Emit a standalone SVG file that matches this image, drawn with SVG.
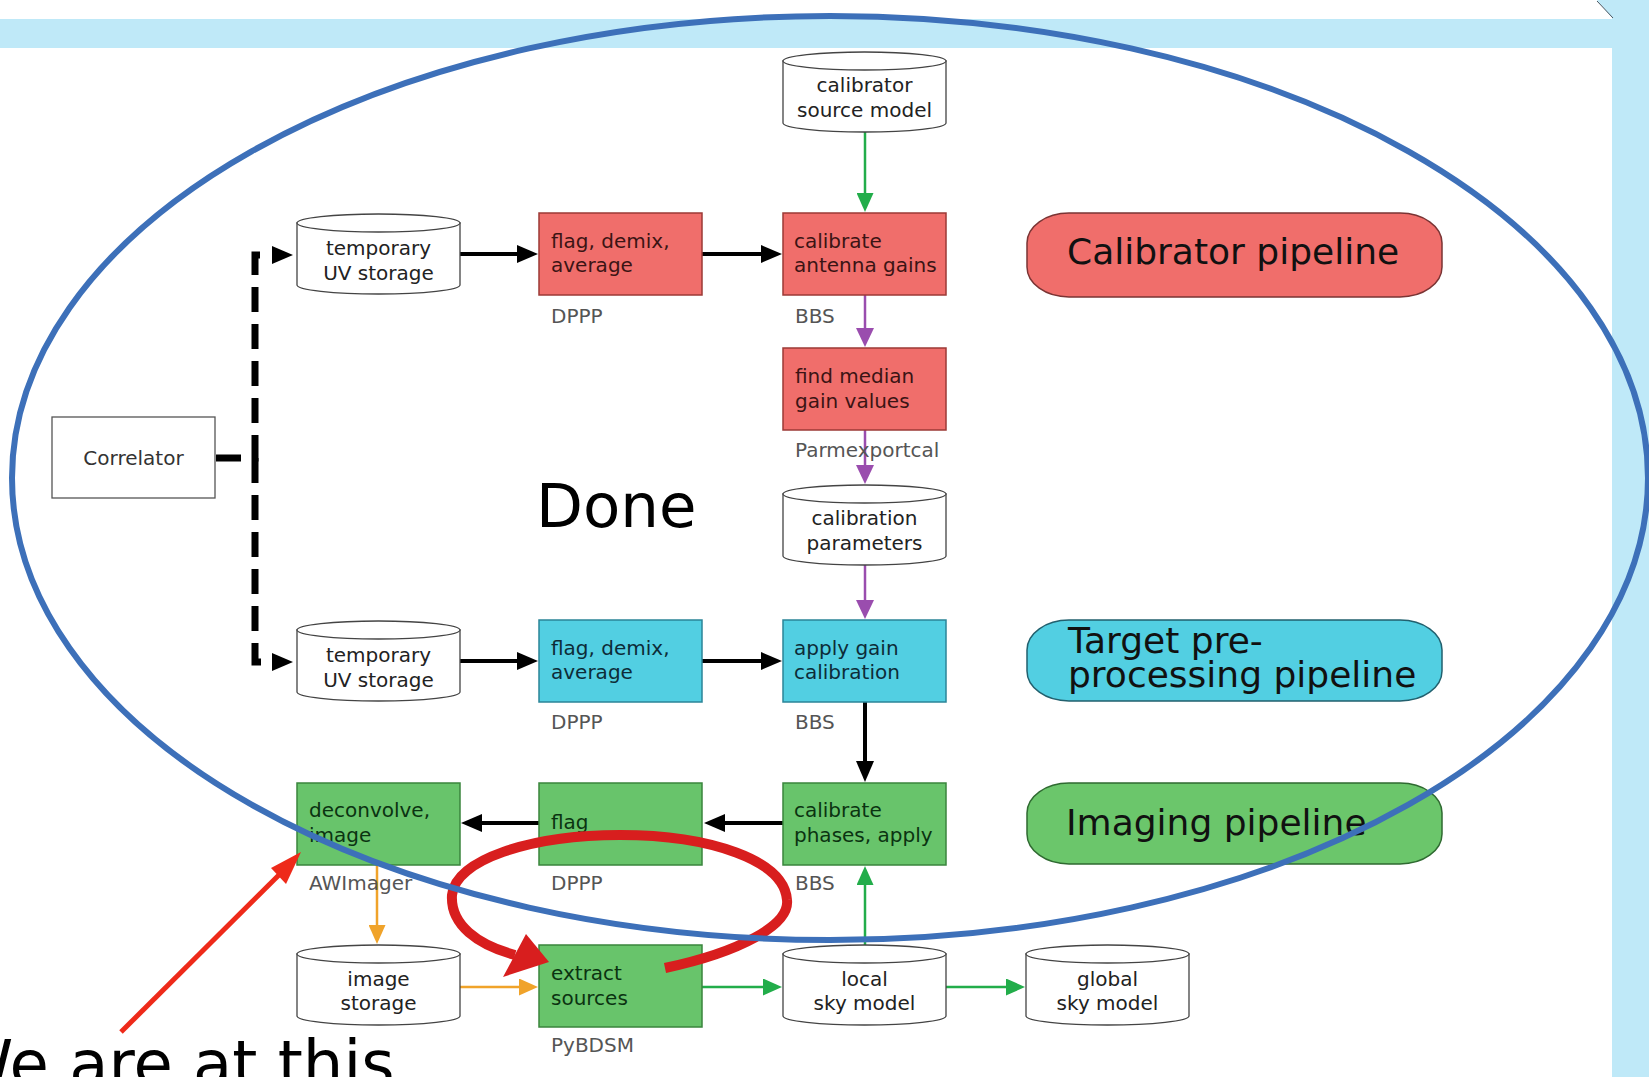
<svg xmlns="http://www.w3.org/2000/svg" width="1649" height="1077" viewBox="0 0 1649 1077">
  <style>
    text { font-family: "DejaVu Sans", "Liberation Sans", sans-serif; }
    .box-red { fill: #f06e6b; stroke: #9c3a36; stroke-width: 1.5; }
    .box-cyan { fill: #52cfe2; stroke: #2b8598; stroke-width: 1.5; }
    .box-green { fill: #68c46b; stroke: #3a853d; stroke-width: 1.5; }
    .cyl { fill: #ffffff; stroke: #444444; stroke-width: 1.3; }
    .t { font-size: 20px; }
    .t-red { fill: #3b1414; }
    .t-cyan { fill: #0d2c38; }
    .t-green { fill: #0b3311; }
    .t-cyl { fill: #222222; text-anchor: middle; }
    .tool { font-size: 20px; fill: #555555; }
    .pill-text { font-size: 36px; fill: #111111; }
    .big { font-size: 61px; fill: #000000; }
    .c-black { stroke: #000000; stroke-width: 4; fill: none; }
    .c-dash { stroke: #000000; stroke-width: 7; fill: none; stroke-dasharray: 25 12; }
    .c-green { stroke: #22ad4a; stroke-width: 2.5; fill: none; }
    .c-purple { stroke: #9a4dae; stroke-width: 2.5; fill: none; }
    .c-orange { stroke: #f0a32a; stroke-width: 2.5; fill: none; }
  </style>
  <defs>
    <marker id="ah-black" markerUnits="userSpaceOnUse" viewBox="0 0 21 18" markerWidth="21" markerHeight="18" refX="1" refY="9" orient="auto">
      <path d="M0,0 L21,9 L0,18 z" fill="#000000"/>
    </marker>
    <marker id="ah-green" markerUnits="userSpaceOnUse" viewBox="0 0 19 17" markerWidth="19" markerHeight="17" refX="1" refY="8.5" orient="auto">
      <path d="M0,0 L19,8.5 L0,17 z" fill="#22ad4a"/>
    </marker>
    <marker id="ah-purple" markerUnits="userSpaceOnUse" viewBox="0 0 19 18" markerWidth="19" markerHeight="18" refX="1" refY="9" orient="auto">
      <path d="M0,0 L19,9 L0,18 z" fill="#9a4dae"/>
    </marker>
    <marker id="ah-orange" markerUnits="userSpaceOnUse" viewBox="0 0 19 17" markerWidth="19" markerHeight="17" refX="1" refY="8.5" orient="auto">
      <path d="M0,0 L19,8.5 L0,17 z" fill="#f0a32a"/>
    </marker>
    <!-- storage cylinder, 163 x 80 -->
    <g id="cyl-shape">
      <path class="cyl" d="M0,9 V71 A81.5,9 0 0 0 163,71 V9 Z"/>
      <ellipse class="cyl" cx="81.5" cy="9" rx="81.5" ry="9"/>
    </g>
  </defs>

  <!-- page background -->
  <rect x="0" y="0" width="1649" height="1077" fill="#ffffff"/>
  <rect x="0" y="19" width="1612" height="29" fill="#bfe9f8"/>
  <polygon points="1597,0 1649,0 1649,1077 1612,1077 1612,18" fill="#bfe9f8"/>
  <line x1="1597" y1="1" x2="1613" y2="18" stroke="#4a5560" stroke-width="1"/>

  <!-- connectors -->
  <g id="connectors">
    <path class="c-dash" d="M216,458 H255 V255 H273" marker-end="url(#ah-black)"/>
    <path class="c-dash" d="M255,458 V662 H273" marker-end="url(#ah-black)"/>
    <path class="c-black" d="M460,254 H518" marker-end="url(#ah-black)"/>
    <path class="c-black" d="M702,254 H762" marker-end="url(#ah-black)"/>
    <path class="c-black" d="M460,661 H518" marker-end="url(#ah-black)"/>
    <path class="c-black" d="M702,661 H762" marker-end="url(#ah-black)"/>
    <path class="c-black" d="M865,702 V762" marker-end="url(#ah-black)"/>
    <path class="c-black" d="M783,823 H724" marker-end="url(#ah-black)"/>
    <path class="c-black" d="M539,823 H481" marker-end="url(#ah-black)"/>
    <path class="c-green" d="M865,132 V194" marker-end="url(#ah-green)"/>
    <path class="c-green" d="M865,945 V884" marker-end="url(#ah-green)"/>
    <path class="c-green" d="M702,987 H764" marker-end="url(#ah-green)"/>
    <path class="c-green" d="M946,987 H1007" marker-end="url(#ah-green)"/>
    <path class="c-purple" d="M865,295 V329" marker-end="url(#ah-purple)"/>
    <path class="c-purple" d="M865,430 V466" marker-end="url(#ah-purple)"/>
    <path class="c-purple" d="M865,565 V601" marker-end="url(#ah-purple)"/>
    <path class="c-orange" d="M377,865 V926" marker-end="url(#ah-orange)"/>
    <path class="c-orange" d="M460,987 H520" marker-end="url(#ah-orange)"/>
  </g>

  <!-- correlator -->
  <g id="correlator">
    <rect x="52" y="417" width="163" height="81" fill="#ffffff" stroke="#555555" stroke-width="1.3"/>
    <text class="t" x="133.5" y="465" text-anchor="middle" fill="#333333">Correlator</text>
  </g>

  <!-- calibrator pipeline -->
  <g id="cal-source-model">
    <use href="#cyl-shape" x="783" y="52"/>
    <text class="t t-cyl" x="864.5" y="92">calibrator</text>
    <text class="t t-cyl" x="864.5" y="117">source model</text>
  </g>
  <g id="temp-uv-1">
    <use href="#cyl-shape" x="297" y="214"/>
    <text class="t t-cyl" x="378.5" y="255">temporary</text>
    <text class="t t-cyl" x="378.5" y="280">UV storage</text>
  </g>
  <g id="cal-flag-demix">
    <rect class="box-red" x="539" y="213" width="163" height="82"/>
    <text class="t t-red" x="551" y="248">flag, demix,</text>
    <text class="t t-red" x="551" y="272">average</text>
    <text class="tool" x="551" y="323">DPPP</text>
  </g>
  <g id="cal-antenna-gains">
    <rect class="box-red" x="783" y="213" width="163" height="82"/>
    <text class="t t-red" x="794" y="248">calibrate</text>
    <text class="t t-red" x="794" y="272">antenna gains</text>
    <text class="tool" x="795" y="323">BBS</text>
  </g>
  <g id="median-gains">
    <rect class="box-red" x="783" y="348" width="163" height="82"/>
    <text class="t t-red" x="795" y="383">find median</text>
    <text class="t t-red" x="795" y="408">gain values</text>
    <text class="tool" x="795" y="457">Parmexportcal</text>
  </g>
  <g id="cal-parameters">
    <use href="#cyl-shape" x="783" y="485"/>
    <text class="t t-cyl" x="864.5" y="525">calibration</text>
    <text class="t t-cyl" x="864.5" y="550">parameters</text>
  </g>

  <!-- target pre-processing pipeline -->
  <g id="temp-uv-2">
    <use href="#cyl-shape" x="297" y="621"/>
    <text class="t t-cyl" x="378.5" y="662">temporary</text>
    <text class="t t-cyl" x="378.5" y="687">UV storage</text>
  </g>
  <g id="target-flag-demix">
    <rect class="box-cyan" x="539" y="620" width="163" height="82"/>
    <text class="t t-cyan" x="551" y="655">flag, demix,</text>
    <text class="t t-cyan" x="551" y="679">average</text>
    <text class="tool" x="551" y="729">DPPP</text>
  </g>
  <g id="apply-gain">
    <rect class="box-cyan" x="783" y="620" width="163" height="82"/>
    <text class="t t-cyan" x="794" y="655">apply gain</text>
    <text class="t t-cyan" x="794" y="679">calibration</text>
    <text class="tool" x="795" y="729">BBS</text>
  </g>

  <!-- imaging pipeline -->
  <g id="deconvolve">
    <rect class="box-green" x="297" y="783" width="163" height="82"/>
    <text class="t t-green" x="309" y="817">deconvolve,</text>
    <text class="t t-green" x="309" y="842">image</text>
    <text class="tool" x="309" y="890">AWImager</text>
  </g>
  <g id="flag">
    <rect class="box-green" x="539" y="783" width="163" height="82"/>
    <text class="t t-green" x="551" y="829">flag</text>
    <text class="tool" x="551" y="890">DPPP</text>
  </g>
  <g id="calibrate-phases">
    <rect class="box-green" x="783" y="783" width="163" height="82"/>
    <text class="t t-green" x="794" y="817">calibrate</text>
    <text class="t t-green" x="794" y="842">phases, apply</text>
    <text class="tool" x="795" y="890">BBS</text>
  </g>
  <g id="image-storage">
    <use href="#cyl-shape" x="297" y="945"/>
    <text class="t t-cyl" x="378.5" y="986">image</text>
    <text class="t t-cyl" x="378.5" y="1010">storage</text>
  </g>
  <g id="extract-sources">
    <rect class="box-green" x="539" y="945" width="163" height="82"/>
    <text class="t t-green" x="551" y="980">extract</text>
    <text class="t t-green" x="551" y="1005">sources</text>
    <text class="tool" x="551" y="1052">PyBDSM</text>
  </g>
  <g id="local-sky-model">
    <use href="#cyl-shape" x="783" y="945"/>
    <text class="t t-cyl" x="864.5" y="986">local</text>
    <text class="t t-cyl" x="864.5" y="1010">sky model</text>
  </g>
  <g id="global-sky-model">
    <use href="#cyl-shape" x="1026" y="945"/>
    <text class="t t-cyl" x="1107.5" y="986">global</text>
    <text class="t t-cyl" x="1107.5" y="1010">sky model</text>
  </g>

  <!-- pipeline legend -->
  <g id="legend-calibrator">
    <rect x="1027" y="213" width="415" height="84" rx="42" ry="30" fill="#f06e6b" stroke="#7a3434" stroke-width="1.5"/>
    <text class="pill-text" x="1067" y="264">Calibrator pipeline</text>
  </g>
  <g id="legend-target">
    <rect x="1027" y="620" width="415" height="81" rx="42" ry="30" fill="#52cfe2" stroke="#22606e" stroke-width="1.5"/>
    <text class="pill-text" x="1068" y="653">Target pre-<tspan x="1068" dy="34">processing pipeline</tspan></text>
  </g>
  <g id="legend-imaging">
    <rect x="1027" y="783" width="415" height="81" rx="42" ry="30" fill="#6bc66b" stroke="#2f6a31" stroke-width="1.5"/>
    <text class="pill-text" x="1066" y="835">Imaging pipeline</text>
  </g>

  <!-- annotations -->
  <g id="annotations">
    <text class="big" x="536" y="527">Done</text>
    <text class="big" x="-50" y="1086" style="font-size:64px">We are at this</text>
    <!-- red loop around extract sources -->
    <path d="M665,968 C740,952 790,925 787,900 C784,860 710,835 620,835 C530,835 455,860 452,895 C450,925 478,945 515,955" fill="none" stroke="#d81e1e" stroke-width="10"/>
    <polygon points="549,962 503,977 526,934" fill="#d81e1e"/>
    <!-- pointer to the imaging step -->
    <line x1="121" y1="1032" x2="290" y2="864" stroke="#ee2a1a" stroke-width="5"/>
    <polygon points="301,852 271,868 286,884" fill="#ee2a1a"/>
    <!-- scope outline -->
    <ellipse cx="830" cy="478" rx="818" ry="462" fill="none" stroke="#3d70b9" stroke-width="6"/>
  </g>
</svg>
